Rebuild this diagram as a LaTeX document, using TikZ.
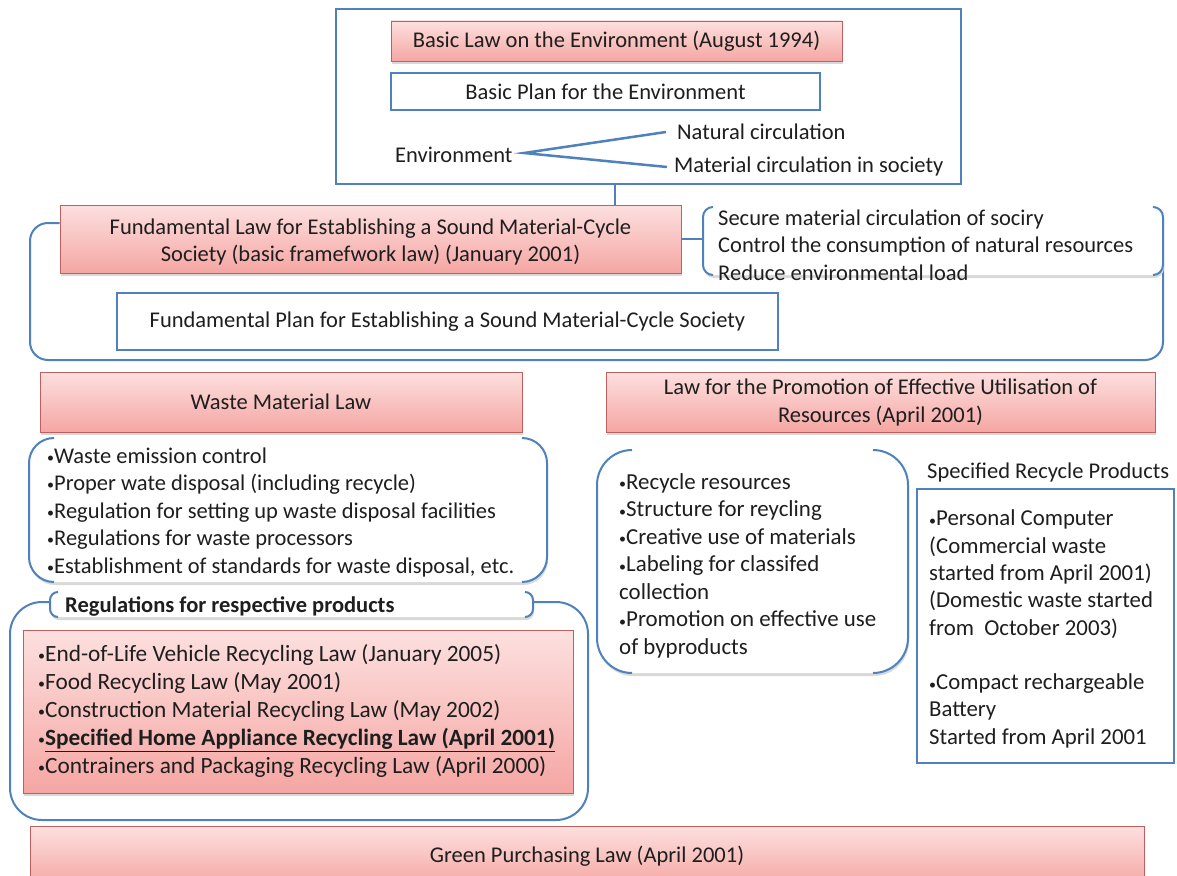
\documentclass[tikz,border=0pt]{standalone}
\usepackage{fontspec}
\setmainfont{Carlito}
\usetikzlibrary{shadows}
\definecolor{lineblue}{RGB}{79,129,189}
\definecolor{pinktop}{RGB}{252,224,223}
\definecolor{pinkbot}{RGB}{245,166,163}
\definecolor{redline}{RGB}{192,96,94}
\definecolor{txtc}{RGB}{30,30,30}
\newcommand\bul{{\fontsize{14}{14}\selectfont\raisebox{0.6pt}{•}}}
\newcommand\brpair[5]{%
  \fill[black!15, rounded corners=#5] (#1+1,#2+2) rectangle (#3+1,#4+3);
  \fill[white, rounded corners=#5] (#1,#2) rectangle (#3,#4);
  \draw[brk, rounded corners=#5] ({#1+#5},#2) -- (#1,#2) -- (#1,#4) -- ({#1+#5},#4);
  \draw[brk, rounded corners=#5] ({#3-#5},#2) -- (#3,#2) -- (#3,#4) -- ({#3-#5},#4);
}
\begin{document}
\begin{tikzpicture}[x=1pt,y=-1pt,
  txt/.style={font=\fontsize{22.5}{27.5}\selectfont, text=txtc, inner sep=0pt},
  redbox/.style={draw=redline, line width=0.8pt, top color=pinktop, bottom color=pinkbot,
    drop shadow={shadow xshift=0.5pt, shadow yshift=-3pt, opacity=0.3}, txt},
  bluebox/.style={draw=lineblue, line width=2pt, fill=white, txt},
  brk/.style={draw=lineblue, line width=2pt},
  conn/.style={draw=lineblue, line width=2pt},
]
\useasboundingbox (0,0) rectangle (1177,875);
\fill[white] (0,0) rectangle (1177,875);

% ---- top block
\node[bluebox, minimum width=625pt, minimum height=175pt] (envbox) at (648.5,96.5) {};
\node[redbox, minimum width=451pt, minimum height=40pt] (basiclaw) at (616.5,41) {Basic Law on the Environment (August 1994)};
\node[bluebox, minimum width=429pt, minimum height=37pt] (basicplan) at (605.5,91.5) {Basic Plan for the Environment};
\node[txt, anchor=west] (envt) at (395,155) {Environment};
\node[txt, anchor=west] (natc) at (677,132) {Natural circulation};
\node[txt, anchor=west] (matc) at (674,167) {Material circulation in society};
\coordinate (fork) at (524,153);
\draw[conn, line width=2.5pt] ([xshift=-11pt]natc.west) -- (fork) -- ([xshift=-7pt]matc.west);

% ---- fundamental law
\node[redbox, minimum width=621pt, minimum height=68pt] (fund) at (370.5,239) {};
\node[txt, align=center, font=\fontsize{22.5}{27}\selectfont] (fundtxt) at (370.5,242)
  {Fundamental Law for Establishing a Sound Material-Cycle\\Society (basic framefwork law) (January 2001)};
\coordinate (vx) at (615,0);
\draw[conn] (envbox.south -| vx) -- (fund.north -| vx);

\draw[brk, rounded corners=18pt] ([yshift=16pt]fund.west) -| (30,360) -| (1163,265);
\brpair{703}{207}{1163}{275}{10}
\coordinate (brA) at (703,239);
\draw[conn] (fund.east) -- (brA);
\node[txt, anchor=west, align=left] (goals) at (718,245)
  {Secure material circulation of sociry\\Control the consumption of natural resources\\Reduce environmental load};

\node[bluebox, minimum width=661pt, minimum height=57pt] (fplan) at (447.5,321.5)
  {Fundamental Plan for Establishing a Sound Material-Cycle Society};

% ---- second tier laws
\node[redbox, minimum width=482pt, minimum height=60pt] (waste) at (281,402) {Waste Material Law};
\node[redbox, minimum width=549pt, minimum height=60pt, align=center, font=\fontsize{22.5}{28}\selectfont] (promo) at (880.5,402)
  {Law for the Promotion of Effective Utilisation of\\Resources (April 2001)};

% ---- waste list
\brpair{29}{438}{547}{582}{25}
\node[txt, anchor=west, align=left] (wlist) at (47,512)
  {\bul Waste emission control\\\bul Proper wate disposal (including recycle)\\\bul Regulation for setting up waste disposal facilities\\\bul Regulations for waste processors\\\bul Establishment of standards for waste disposal, etc.};

% ---- products
\draw[brk, rounded corners=32pt] (50,602) -| (10,820) -| (588,602) -- (533,602);
\brpair{50}{592}{533}{617}{8}
\node[txt, anchor=west, font=\fontsize{22.5}{27}\selectfont\bfseries] (reg) at (65,606) {Regulations for respective products};
\node[redbox, minimum width=550pt, minimum height=163pt] (prods) at (298,711.5) {};
\node[txt, anchor=west, align=left, font=\fontsize{23.3}{28}\selectfont] (prodstxt) at (38,711)
  {\bul End-of-Life Vehicle Recycling Law (January 2005)\\
   \bul Food Recycling Law (May 2001)\\
   \bul Construction Material Recycling Law (May 2002)\\
   \bul\textbf{\underline{Specified Home Appliance Recycling Law (April 2001)}}\\
   \bul Contrainers and Packaging Recycling Law (April 2000)};

% ---- promotion list
\brpair{597}{450}{908}{673}{35}
\node[txt, anchor=west, align=left, font=\fontsize{22.9}{27.5}\selectfont] (plist) at (619,565.5)
  {\bul Recycle resources\\\bul Structure for reycling\\\bul Creative use of materials\\\bul Labeling for classifed\\collection\\\bul Promotion on effective use\\of byproducts};

% ---- specified recycle products
\node[txt, anchor=west] (spec) at (927,472) {Specified Recycle Products};
\node[bluebox, minimum width=257pt, minimum height=274pt] (specbox) at (1045.5,626) {};
\node[txt, anchor=west, align=left, font=\fontsize{22.8}{27.3}\selectfont] (spectxt) at (929,629)
  {\bul Personal Computer\\(Commercial waste\\started from April 2001)\\(Domestic waste started\\from\ \ October 2003)\\[27.3pt]\bul Compact rechargeable\\Battery\\Started from April 2001};

% ---- green purchasing
\node[redbox, minimum width=1114pt, minimum height=60pt] (green) at (587,856) {Green Purchasing Law (April 2001)};
\end{tikzpicture}
\end{document}
